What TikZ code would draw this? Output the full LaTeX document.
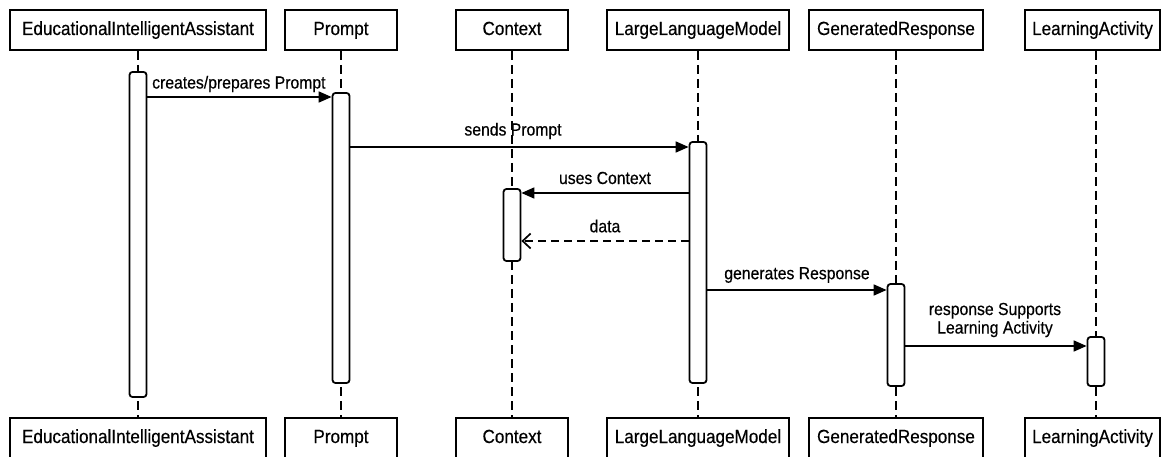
\documentclass[tikz,border=0pt]{standalone}
\usepackage{fontspec}
\setmainfont{Liberation Sans}[FakeStretch=0.9,FakeBold=0.4]
\usetikzlibrary{arrows.meta}
\begin{document}
\begin{tikzpicture}[x=1pt,y=-1pt,
  obj/.style={draw,line width=2pt,fill=white,minimum height=40pt,inner sep=0pt,text height=14pt,text depth=4pt,font=\fontsize{19}{22}\selectfont},
  lifeline/.style={line width=2pt,dash pattern=on 9pt off 5pt},
  bar/.style={draw,line width=1.8pt,fill=white,rounded corners=3pt,minimum width=17pt,inner sep=0pt},
  msg/.style={line width=1.7pt,-{Triangle[length=13pt,width=11pt]}},
  ret/.style={line width=1.7pt,dash pattern=on 8pt off 5pt,-{Straight Barb[length=8pt,width=15pt,line width=1.7pt]}},
  lbl/.style={font=\fontsize{17.5}{19}\selectfont,inner sep=0pt}]
\useasboundingbox[fill=white] (0,0) rectangle (1168,457);
% top boxes
\node[obj,minimum width=256pt] (eia) at (138,30) {EducationalIntelligentAssistant};
\node[obj,minimum width=112pt] (pr) at (341,30) {Prompt};
\node[obj,minimum width=112pt] (cx) at (512,30) {Context};
\node[obj,minimum width=182pt] (llm) at (698,30) {LargeLanguageModel};
\node[obj,minimum width=174pt] (gr) at (896,30) {GeneratedResponse};
\node[obj,minimum width=135pt] (la) at (1092.5,30) {LearningActivity};
% bottom boxes
\node[obj,minimum width=256pt] (eia2) at (138,438) {EducationalIntelligentAssistant};
\node[obj,minimum width=112pt] (pr2) at (341,438) {Prompt};
\node[obj,minimum width=112pt] (cx2) at (512,438) {Context};
\node[obj,minimum width=182pt] (llm2) at (698,438) {LargeLanguageModel};
\node[obj,minimum width=174pt] (gr2) at (896,438) {GeneratedResponse};
\node[obj,minimum width=135pt] (la2) at (1092.5,438) {LearningActivity};
% lifelines
\draw[lifeline] (eia.south) -- (eia2.north);
\draw[lifeline] (pr.south) -- (pr2.north);
\draw[lifeline] (cx.south) -- (cx2.north);
\draw[lifeline] (llm.south) -- (llm2.north);
\draw[lifeline] (gr.south) -- (gr2.north);
\draw[lifeline] ([xshift=3.5pt]la.south) -- ([xshift=3.5pt]la2.north);
% activation bars
\node[bar,minimum height=325pt] (eiab) at (138,234.5) {};
\node[bar,minimum height=290pt] (prb) at (341,238) {};
\node[bar,minimum height=72pt] (cxb) at (512,225) {};
\node[bar,minimum height=241pt] (llmb) at (698,262.5) {};
\node[bar,minimum height=102pt] (grb) at (896,335) {};
\node[bar,minimum height=49pt] (lab) at (1096,361.5) {};
% messages
\draw[msg] (eiab.east |- 0,97) -- (prb.west |- 0,97);
\node[lbl,anchor=west] (m1) at (152,84) {creates/prepares Prompt};
\draw[msg] (prb.east |- 0,147) -- (llmb.west |- 0,147);
\node[lbl] (m2) at (513,131) {sends Prompt};
\draw[msg] (llmb.west |- 0,193) -- (cxb.east |- 0,193);
\node[lbl] (m3) at (605,178) {uses Context};
\draw[ret] (llmb.west |- 0,241) -- (cxb.east |- 0,241);
\node[lbl] (m4) at (605,226) {data};
\draw[msg] (llmb.east |- 0,290) -- (grb.west |- 0,290);
\node[lbl] (m5) at (797,275) {generates Response};
\draw[msg] (grb.east |- 0,346) -- (lab.west |- 0,346);
\node[lbl,align=center,font=\fontsize{17.5}{18.5}\selectfont] (m6) at (995,320) {response Supports\\Learning Activity};
\end{tikzpicture}
\end{document}
